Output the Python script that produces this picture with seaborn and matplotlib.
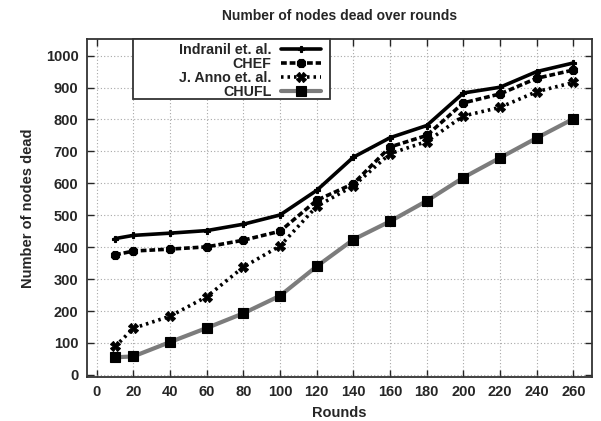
import matplotlib
matplotlib.use("Agg")
import matplotlib.pyplot as plt
from matplotlib.patches import Rectangle
import numpy as np
import pandas as pd
import seaborn as sns

# Rounds at which the dead-node count was sampled
rounds = [10, 20, 40, 60, 80, 100, 120, 140, 160, 180, 200, 220, 240, 260]

# Dead nodes per protocol
indranil = [427, 437, 444, 452, 472, 501, 578, 682, 743, 781, 883, 901, 950, 977]
chef = [376, 388, 394, 401, 422, 450, 547, 599, 714, 750, 852, 880, 929, 955]
j_anno = [89, 146, 184, 245, 338, 404, 528, 592, 693, 731, 811, 838, 887, 916]
chufl = [55, 58, 103, 147, 193, 248, 340, 424, 481, 545, 618, 680, 742, 802]

series_names = ["Indranil et. al.", "CHEF", "J. Anno et. al.", "CHUFL"]
x_ticks = list(range(0, 261, 20))
y_ticks = list(range(0, 1001, 100))

sns.set_style("ticks")
plt.rcParams["font.family"] = ["Liberation Sans", "DejaVu Sans"]
plt.rcParams["font.weight"] = "bold"

fig = plt.figure(figsize=(6.01, 4.21), dpi=100)
ax = fig.add_axes([0.1443, 0.1057, 0.8402, 0.8016])

styles = {
    "Indranil et. al.": dict(color="black", lw=2.6, ls="-", marker="P", ms=4.5),
    "CHEF": dict(color="black", lw=2.6, ls=(0, (1.6, 0.8)), marker="8", ms=6.5),
    "J. Anno et. al.": dict(color="black", lw=2.6, ls=(0, (0.7, 1.1)), marker="X", ms=6.5),
    "CHUFL": dict(color="#7c7c7c", lw=3.0, ls="-", marker="s", ms=7.5),
}

for name, vals in zip(series_names, [indranil, chef, j_anno, chufl]):
    st = styles[name]
    sns.lineplot(x=rounds, y=vals, ax=ax, label=name, color=st["color"],
                 linewidth=st["lw"], marker=st["marker"], markersize=st["ms"],
                 markeredgecolor="black", markerfacecolor="black",
                 markeredgewidth=0.8)
    ax.get_lines()[-1].set_linestyle(st["ls"])

ax.set_xlim(-5.5, 270)
ax.set_ylim(-5, 1052)
ax.set_xticks(x_ticks)
ax.set_yticks(y_ticks)
ax.grid(True, color="#a8a8a8", linestyle=(0, (1, 2)), linewidth=0.8)

ax.tick_params(direction="in", top=True, right=True, length=5, width=1.0,
               labelsize=10.5, pad=6)
for lab in ax.get_xticklabels() + ax.get_yticklabels():
    lab.set_fontweight("bold")
for sp in ax.spines.values():
    sp.set_linewidth(1.3)
    sp.set_color("#333333")

ax.set_xlabel("Rounds", fontsize=10.5, fontweight="bold", labelpad=5)
ax.set_ylabel("Number of nodes dead", fontsize=10.5, fontweight="bold", labelpad=8)
ax.set_title("Number of nodes dead over rounds", fontsize=10, fontweight="bold", pad=14)

# Legend box drawn as its own frame so the entries sit right-aligned inside it
box_left, box_right, box_bottom = 0.091, 0.4818, 0.821
ax.add_patch(Rectangle((box_left, box_bottom), box_right - box_left, 1.0 - box_bottom,
                       transform=ax.transAxes, facecolor="white", edgecolor="#333333",
                       linewidth=1.3, zorder=4, clip_on=False))
leg = ax.legend(loc="upper right", bbox_to_anchor=(box_right - 0.010, 1.0), borderaxespad=0,
                markerfirst=False, frameon=False,
                prop={"weight": "bold", "size": 10.3}, handlelength=2.8,
                labelspacing=0.0, borderpad=0.25, handletextpad=0.7)
leg.set_zorder(5)

fig.savefig("out.png", dpi=100)
